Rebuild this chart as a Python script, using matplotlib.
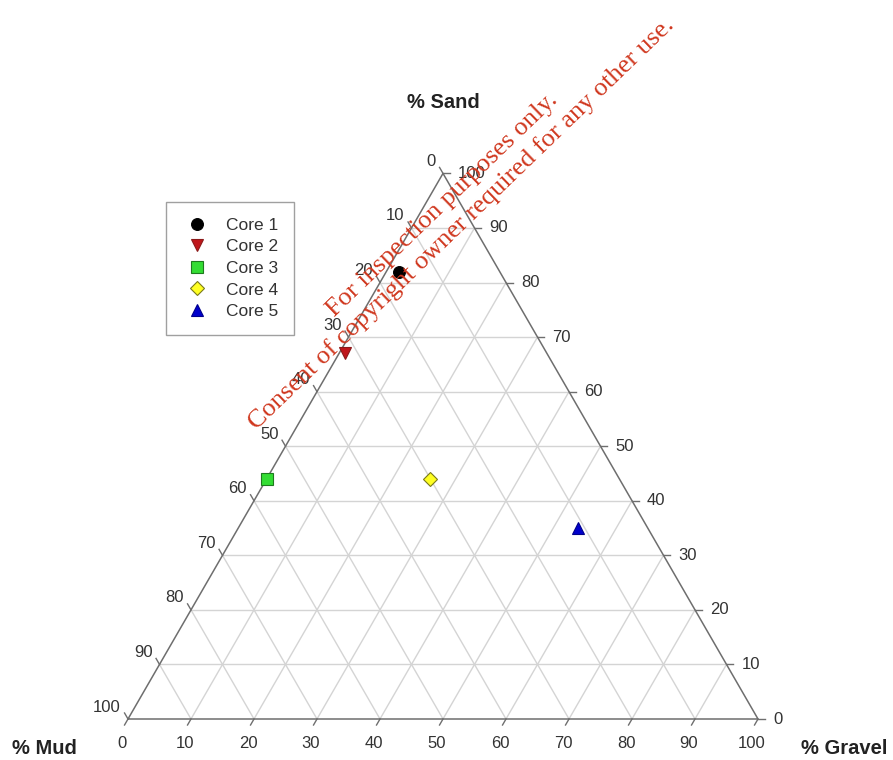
"""Ternary sediment diagram (sand / mud / gravel) for five cores."""

import numpy as np
import matplotlib
matplotlib.use("Agg")
import matplotlib.pyplot as plt

# ---------- data -----------------------------------------------------------
cores = ["Core 1", "Core 2", "Core 3", "Core 4", "Core 5"]
sand = [82, 67, 44, 44, 35]      # %
mud = [16, 32, 56, 30, 11]       # %
gravel = [2, 1, 0, 26, 54]       # %

tick_values = [0, 10, 20, 30, 40, 50, 60, 70, 80, 90, 100]

markers = ["o", "v", "s", "D", "^"]
faces = ["black", "#c0161b", "#33dd33", "#ffff22", "#0000cc"]
edges = ["black", "#8b1a1a", "#1e7a1e", "#7a7a1a", "#00008b"]
sizes = [8.5, 8.5, 8, 7.5, 8.5]

H = np.sqrt(3) / 2
GRID = "#d4d4d4"
EDGE = "#6e6e6e"
TXT = "#333333"


def to_xy(s, g):
    """Sand / gravel fractions -> cartesian (mud is the remainder)."""
    s = np.asarray(s, float)
    g = np.asarray(g, float)
    return g + s / 2, s * H


# ---------- figure ---------------------------------------------------------
fig = plt.figure(figsize=(8.93, 7.6), dpi=100)
ax = fig.add_axes([0, 0, 1, 1])
ax.set_xlim(-128 / 630, 765 / 630)
ax.set_ylim(-41 / 630, 719 / 630)
ax.set_aspect("equal")
ax.axis("off")

# grid
for v in np.arange(1, 10) / 10:
    kw = dict(color=GRID, lw=1.0, zorder=1)
    ax.plot(*to_xy([v, v], [0, 1 - v]), **kw)            # constant sand
    ax.plot(*to_xy([0, 1 - v], [v, v]), **kw)            # constant gravel
    ax.plot(*to_xy([0, 1 - v], [1 - v, 0]), **kw)        # constant mud

# frame
ax.plot(*to_xy([0, 0, 1, 0], [0, 1, 0, 0]), color=EDGE, lw=1.1, zorder=2)

# ticks + labels
L = 0.011
tick_kw = dict(textcoords="offset pixels", va="center", fontsize=12,
               color=TXT, family="Liberation Sans")
for t in tick_values:
    v = t / 100
    # bottom: gravel
    x, y = to_xy(0, v)
    ax.plot([x, x - 0.5 * L], [y, y - H * L], color=EDGE, lw=1.0)
    ax.annotate(str(t), (x, y), xytext=(-6, -24), ha="center", **tick_kw)
    # right: sand
    x, y = to_xy(v, 1 - v)
    ax.plot([x, x + L], [y, y], color=EDGE, lw=1.0)
    ax.annotate(str(t), (x, y), xytext=(15, 0), ha="left", **tick_kw)
    # left: mud
    x, y = to_xy(1 - v, 0)
    ax.plot([x, x - 0.5 * L], [y, y + H * L], color=EDGE, lw=1.0)
    ax.annotate(str(t), (x, y), xytext=(-7, 12), ha="right", **tick_kw)

# axis titles
bold = dict(fontsize=14.5, fontweight="bold", color="#222222",
            family="Liberation Sans", ha="center", va="center",
            textcoords="offset pixels")
ax.annotate("% Sand", to_xy(1, 0), xytext=(0, 71), **bold)
ax.annotate("% Mud", to_xy(0, 0), xytext=(-84, -30), **bold)
ax.annotate("% Gravel", to_xy(0, 1), xytext=(86, -29), **bold)

# points
for name, s, g, m, fc, ec, ms in zip(cores, sand, gravel, markers, faces, edges, sizes):
    x, y = to_xy(s / 100, g / 100)
    ax.plot(x, y, marker=m, ms=ms, mfc=fc, mec=ec, mew=0.8, ls="none",
            label=name, zorder=4)

leg = ax.legend(loc="upper left", bbox_to_anchor=(166 / 893, 1 - 202 / 760),
                frameon=True, fancybox=False, edgecolor="#888888",
                borderpad=0.9, labelspacing=0.37, handletextpad=0.75,
                handlelength=1.8, borderaxespad=0,
                prop={"family": "Liberation Sans", "size": 12.5})
leg.get_frame().set_linewidth(1.0)
for txt in leg.get_texts():
    txt.set_color(TXT)

# watermark
wm = dict(color="#d0381f", family="Liberation Serif", fontsize=19,
          rotation=44, ha="center", va="center", rotation_mode="anchor",
          transform=fig.transFigure, zorder=6)
fig.text(442 / 893, 1 - 205 / 760, "For inspection purposes only.", **wm)
fig.text(461 / 893, 1 - 224 / 760,
         "Consent of copyright owner required for any other use.", **wm)

fig.savefig("out.png", dpi=100)
